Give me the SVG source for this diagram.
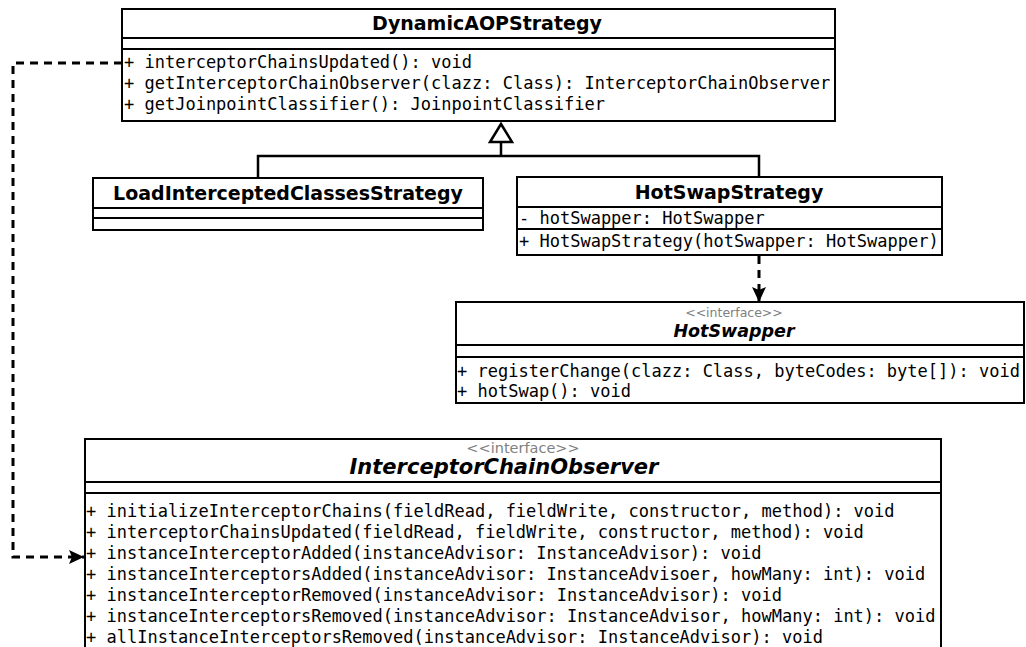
<svg xmlns="http://www.w3.org/2000/svg" width="1026" height="647" viewBox="0 0 1026 647">
  <style>
    .box { fill: #ffffff; stroke: #000000; stroke-width: 2; }
    .sep { stroke: #000000; stroke-width: 2; }
    .title { font-family: "DejaVu Sans", "Liberation Sans", sans-serif; font-weight: bold; font-size: 19px; fill: #000000; text-anchor: middle; }
    .abstract { font-style: italic; }
    .stereo { font-family: "DejaVu Sans", "Liberation Sans", sans-serif; font-size: 12.5px; fill: #808080; text-anchor: middle; }
    .member { font-family: "DejaVu Sans Mono", "Liberation Mono", monospace; font-size: 17px; fill: #000000; }
    .solid { fill: none; stroke: #000000; stroke-width: 2.5; }
    .dashed { fill: none; stroke: #000000; stroke-width: 3; stroke-dasharray: 8 6; }
  </style>
  <defs>
    <marker id="filled-arrow" markerWidth="16" markerHeight="14" refX="15" refY="7" orient="auto" markerUnits="userSpaceOnUse">
      <path d="M0,0 L15,7 L0,14 L3,7 Z" fill="#000000"/>
    </marker>
  </defs>

  <!-- connectors -->
  <g id="connectors">
    <!-- generalization: both strategies extend DynamicAOPStrategy -->
    <path class="solid" d="M258,178 V156 H759 V177"/>
    <path class="solid" d="M501,156 V142"/>
    <polygon points="501,124 490,142 512,142" fill="#ffffff" stroke="#000000" stroke-width="2.5" stroke-linejoin="miter"/>
    <!-- HotSwapStrategy uses HotSwapper -->
    <path class="dashed" d="M759,256 V302" marker-end="url(#filled-arrow)"/>
    <!-- DynamicAOPStrategy uses InterceptorChainObserver -->
    <path class="dashed" d="M122,63 H13 V557 H84" marker-end="url(#filled-arrow)"/>
  </g>

  <!-- DynamicAOPStrategy -->
  <g id="DynamicAOPStrategy">
    <rect class="box" x="122" y="9" width="713" height="112"/>
    <line class="sep" x1="122" y1="38" x2="835" y2="38"/>
    <line class="sep" x1="122" y1="49" x2="835" y2="49"/>
    <text class="title" x="487" y="30">DynamicAOPStrategy</text>
    <text class="member" x="124" y="68">+ interceptorChainsUpdated(): void</text>
    <text class="member" x="124" y="89">+ getInterceptorChainObserver(clazz: Class): InterceptorChainObserver</text>
    <text class="member" x="124" y="110">+ getJoinpointClassifier(): JoinpointClassifier</text>
  </g>

  <!-- LoadInterceptedClassesStrategy -->
  <g id="LoadInterceptedClassesStrategy">
    <rect class="box" x="93" y="178" width="390" height="52"/>
    <line class="sep" x1="93" y1="208" x2="483" y2="208"/>
    <line class="sep" x1="93" y1="218" x2="483" y2="218"/>
    <text class="title" x="288" y="200">LoadInterceptedClassesStrategy</text>
  </g>

  <!-- HotSwapStrategy -->
  <g id="HotSwapStrategy">
    <rect class="box" x="517" y="177" width="425" height="78"/>
    <line class="sep" x1="517" y1="207" x2="942" y2="207"/>
    <line class="sep" x1="517" y1="229" x2="942" y2="229"/>
    <text class="title" x="729" y="199">HotSwapStrategy</text>
    <text class="member" x="519" y="224">- hotSwapper: HotSwapper</text>
    <text class="member" x="519" y="247">+ HotSwapStrategy(hotSwapper: HotSwapper)</text>
  </g>

  <!-- HotSwapper interface -->
  <g id="HotSwapper">
    <rect class="box" x="456" y="302" width="568" height="101"/>
    <line class="sep" x1="456" y1="345" x2="1024" y2="345"/>
    <line class="sep" x1="456" y1="357" x2="1024" y2="357"/>
    <text class="stereo" x="734" y="317">&lt;&lt;interface&gt;&gt;</text>
    <text class="title abstract" x="734" y="337" style="font-size:17.5px">HotSwapper</text>
    <text class="member" x="457" y="377">+ registerChange(clazz: Class, byteCodes: byte[]): void</text>
    <text class="member" x="457" y="397">+ hotSwap(): void</text>
  </g>

  <!-- InterceptorChainObserver interface -->
  <g id="InterceptorChainObserver">
    <rect class="box" x="85" y="439" width="856" height="220"/>
    <line class="sep" x1="85" y1="482" x2="941" y2="482"/>
    <line class="sep" x1="85" y1="493" x2="941" y2="493"/>
    <text class="stereo" x="523" y="453" style="font-size:14.5px">&lt;&lt;interface&gt;&gt;</text>
    <text class="title abstract" x="504" y="474" style="font-size:21px">InterceptorChainObserver</text>
    <text class="member" x="86" y="517">+ initializeInterceptorChains(fieldRead, fieldWrite, constructor, method): void</text>
    <text class="member" x="86" y="538">+ interceptorChainsUpdated(fieldRead, fieldWrite, constructor, method): void</text>
    <text class="member" x="86" y="559">+ instanceInterceptorAdded(instanceAdvisor: InstanceAdvisor): void</text>
    <text class="member" x="86" y="580">+ instanceInterceptorsAdded(instanceAdvisor: InstanceAdvisoer, howMany: int): void</text>
    <text class="member" x="86" y="601">+ instanceInterceptorRemoved(instanceAdvisor: InstanceAdvisor): void</text>
    <text class="member" x="86" y="622">+ instanceInterceptorsRemoved(instanceAdvisor: InstanceAdvisor, howMany: int): void</text>
    <text class="member" x="86" y="643">+ allInstanceInterceptorsRemoved(instanceAdvisor: InstanceAdvisor): void</text>
  </g>
</svg>
